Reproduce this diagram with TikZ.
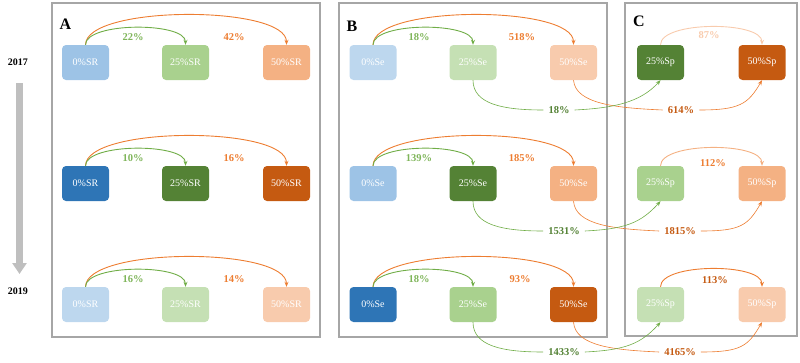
\documentclass[tikz,border=0pt]{standalone}
\usepackage{fontspec}
\setmainfont{Liberation Serif}
\usetikzlibrary{arrows.meta}
\definecolor{blueL}{HTML}{BDD7EE}
\definecolor{blueM}{HTML}{9DC3E6}
\definecolor{blueD}{HTML}{2E75B6}
\definecolor{greenL}{HTML}{C5E0B4}
\definecolor{greenM}{HTML}{A9D18E}
\definecolor{greenD}{HTML}{548235}
\definecolor{orL}{HTML}{F8CBAD}
\definecolor{orM}{HTML}{F4B183}
\definecolor{orD}{HTML}{C55A11}
\definecolor{arcG}{HTML}{70AD47}
\definecolor{arcO}{HTML}{ED7D31}
\definecolor{lblG}{HTML}{7FB55A}
\definecolor{frameC}{HTML}{A6A6A6}
\definecolor{yarrow}{HTML}{BFBFBF}
\tikzset{
  cell/.style={rounded corners=4pt, minimum width=47pt, minimum height=35pt, inner sep=0pt, text=white, font=\fontsize{10}{12}\selectfont},
  pct/.style={font=\bfseries\fontsize{10.5}{12}\selectfont, inner sep=1pt},
  xlbl/.style={font=\bfseries\fontsize{10.5}{12}\selectfont, fill=white, inner xsep=5pt, inner ysep=1pt},
  arc/.style={line width=0.9pt, -{Stealth[length=5pt,width=4pt]}},
  xline/.style={line width=0.6pt, -{Stealth[length=5pt,width=4pt]}},
  xlinen/.style={line width=0.6pt},
  frame/.style={draw=frameC, line width=2.4pt},
  panel/.style={font=\bfseries\fontsize{16}{18}\selectfont, inner sep=0pt},
  year/.style={font=\bfseries\fontsize{10}{12}\selectfont, inner sep=0pt}
}
\begin{document}
\begin{tikzpicture}[x=1pt,y=-1pt]
\useasboundingbox (0,0) rectangle (800,362);
% frames
\draw[frame] (52,3) rectangle (320,337);
\draw[frame] (339,3) rectangle (607,337);
\draw[frame] (625,3) rectangle (797,336);
\node[panel] (pA) at (65.5,24.5) {A};
\node[panel] (pB) at (352,26) {B};
\node[panel] (pC) at (639,21) {C};
% years
\node[year] (y1) at (18,62) {2017};
\node[year] (y2) at (18,291) {2019};
\coordinate (ys) at (19.5,83);
\coordinate (ye) at (19.5,274);
\draw[yarrow, line width=6.5pt, -{Triangle[width=14pt,length=11pt]}] (ys) -- (ye);
% ---------- Panel A ----------
\node[cell, fill=blueM]  (A0a)  at (85.5,62.5) {0\%SR};
\node[cell, fill=greenM] (A25a) at (185.5,62.5) {25\%SR};
\node[cell, fill=orM]    (A50a) at (286.5,62.5) {50\%SR};
\node[cell, fill=blueD]  (A0b)  at (85.5,183.5) {0\%SR};
\node[cell, fill=greenD] (A25b) at (185.5,183.5) {25\%SR};
\node[cell, fill=orD]    (A50b) at (286.5,183.5) {50\%SR};
\node[cell, fill=blueL]  (A0c)  at (85.5,304.5) {0\%SR};
\node[cell, fill=greenL] (A25c) at (185.5,304.5) {25\%SR};
\node[cell, fill=orL]    (A50c) at (286.5,304.5) {50\%SR};
\foreach \r in {a,b,c}{
  \draw[arc, arcO] (A0\r.north) .. controls +(0,-40) and +(0,-40) .. (A50\r.north);
  \draw[arc, arcG] (A0\r.north) .. controls +(0,-23) and +(0,-23) .. (A25\r.north);
}
\node[pct, text=lblG] (lAa1) at (133,37) {22\%};
\node[pct, text=arcO] (lAa2) at (234,37) {42\%};
\node[pct, text=lblG] (lAb1) at (133,158) {10\%};
\node[pct, text=arcO] (lAb2) at (234,158) {16\%};
\node[pct, text=lblG] (lAc1) at (133,279) {16\%};
\node[pct, text=arcO] (lAc2) at (234,279) {14\%};
% ---------- Panel B ----------
\node[cell, fill=blueL]  (B0a)  at (373,62.5) {0\%Se};
\node[cell, fill=greenL] (B25a) at (473,62.5) {25\%Se};
\node[cell, fill=orL]    (B50a) at (573.5,62.5) {50\%Se};
\node[cell, fill=blueM]  (B0b)  at (373,183.5) {0\%Se};
\node[cell, fill=greenD] (B25b) at (473,183.5) {25\%Se};
\node[cell, fill=orM]    (B50b) at (573.5,183.5) {50\%Se};
\node[cell, fill=blueD]  (B0c)  at (373,304.5) {0\%Se};
\node[cell, fill=greenM] (B25c) at (473,304.5) {25\%Se};
\node[cell, fill=orD]    (B50c) at (573.5,304.5) {50\%Se};
\foreach \r in {a,b,c}{
  \draw[arc, arcO] (B0\r.north) .. controls +(0,-40) and +(0,-40) .. (B50\r.north);
  \draw[arc, arcG] (B0\r.north) .. controls +(0,-23) and +(0,-23) .. (B25\r.north);
}
\node[pct, text=lblG] (lBa1) at (419,37) {18\%};
\node[pct, text=arcO] (lBa2) at (522,37) {518\%};
\node[pct, text=lblG] (lBb1) at (419,158) {139\%};
\node[pct, text=arcO] (lBb2) at (522,158) {185\%};
\node[pct, text=lblG] (lBc1) at (419,279) {18\%};
\node[pct, text=arcO] (lBc2) at (520,279) {93\%};
% ---------- Panel C ----------
\node[cell, fill=greenD] (C25a) at (660.5,62.5) {25\%Sp};
\node[cell, fill=orD]    (C50a) at (762,62.5) {50\%Sp};
\node[cell, fill=greenM] (C25b) at (660.5,183.5) {25\%Sp};
\node[cell, fill=orM]    (C50b) at (762,183.5) {50\%Sp};
\node[cell, fill=greenL] (C25c) at (660.5,304.5) {25\%Sp};
\node[cell, fill=orL]    (C50c) at (762,304.5) {50\%Sp};
\draw[arc, orL]  (C25a.north) .. controls +(0,-24) and +(0,-24) .. (C50a.north);
\draw[arc, orM]  (C25b.north) .. controls +(0,-24) and +(0,-24) .. (C50b.north);
\draw[arc, arcO] (C25c.north) .. controls +(0,-24) and +(0,-24) .. (C50c.north);
\node[pct, text=orL]  (lCa) at (709,35) {87\%};
\node[pct, text=arcO] (lCb) at (713,163) {112\%};
\node[pct, text=orD]  (lCc) at (715,280) {113\%};
% ---------- cross links B -> C ----------
\node[xlbl, text=greenD] (ga) at (559,110) {18\%};
\node[xlbl, text=orD]    (oa) at (681,110) {614\%};
\node[xlbl, text=greenD] (gb) at (564,231) {1531\%};
\node[xlbl, text=orD]    (ob) at (680,231) {1815\%};
\node[xlbl, text=greenD] (gc) at (564,352) {1433\%};
\node[xlbl, text=orD]    (oc) at (680,352) {4165\%};
\foreach \r in {a,b,c}{
  \draw[xlinen, arcO] (B50\r.south) .. controls +(2,24) and +(-45,-2) .. (o\r.west);
  \draw[xline, arcO]  (o\r.east) .. controls +(40,0) and +(-14,24) .. (C50\r.south);
  \draw[xlinen, arcG] (B25\r.south) .. controls +(0,24) and +(-40,0) .. (g\r.west);
  \draw[xline, arcG]  (g\r.east) .. controls +(40,-2) and +(-20,22) .. (C25\r.south);
}
\end{tikzpicture}
\end{document}
